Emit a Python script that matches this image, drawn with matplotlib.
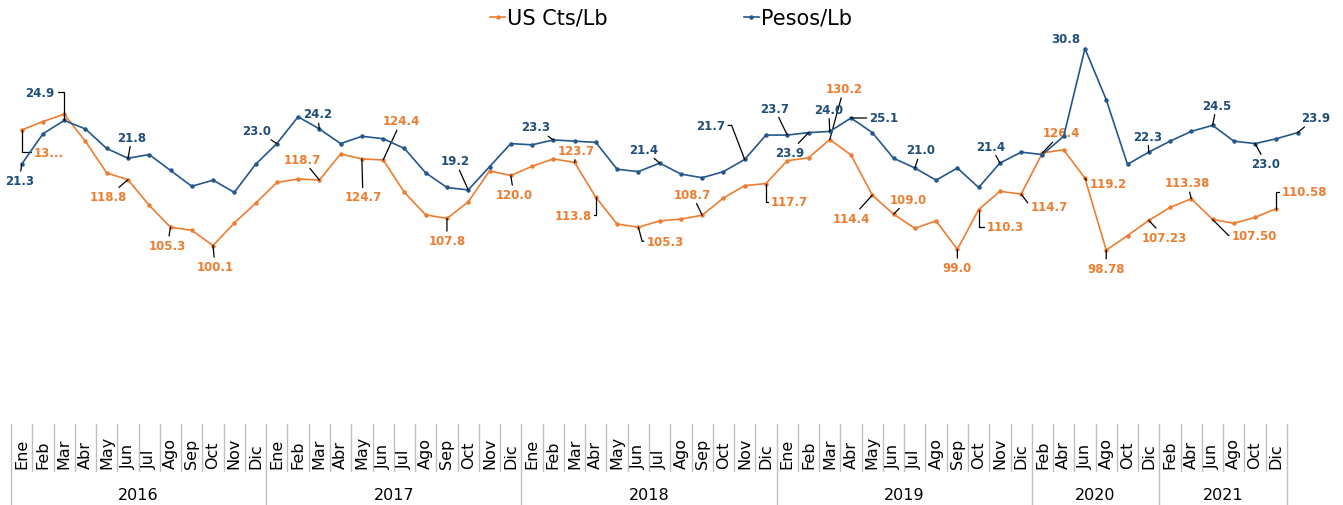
import matplotlib.pyplot as plt
import numpy as np
from matplotlib.lines import Line2D
from matplotlib.transforms import blended_transform_factory

plt.rcParams['font.family'] = ['DejaVu Sans']

ORANGE = '#ED7D31'
BLUE_LINE = '#24578A'
BLUE_TEXT = '#1F4E79'

# categorias: meses por año (2020 y 2021 bimestrales)
months_full = ['Ene', 'Feb', 'Mar', 'Abr', 'May', 'Jun', 'Jul', 'Ago', 'Sep', 'Oct', 'Nov', 'Dic']
months_bi = ['Feb', 'Abr', 'Jun', 'Ago', 'Oct', 'Dic']
years = ['2016', '2017', '2018', '2019', '2020', '2021']
year_months = [months_full, months_full, months_full, months_full, months_bi, months_bi]

us_cts = [132.9, 135.3, 137.4, 129.7, 120.7, 118.8, 111.5, 105.3, 104.4, 100.1, 106.5, 112.1,
          118.0, 119.0, 118.7, 126.1, 124.7, 124.4, 115.2, 108.8, 107.8, 112.5, 121.3, 120.0,
          122.6, 124.7, 123.7, 113.8, 106.2, 105.3, 107.1, 107.6, 108.7, 113.6, 117.1, 117.7,
          124.2, 125.0, 130.2, 125.8, 114.4, 109.0, 105.0, 107.1, 99.0, 110.3, 115.5, 114.7,
          126.4, 127.3, 119.2, 98.78, 102.9, 107.23, 110.9, 113.38, 107.50, 106.4, 108.1, 110.58]

pesos = [21.3, 23.8, 24.9, 24.2, 22.6, 21.8, 22.1, 20.8, 19.5, 20.0, 19.0, 21.3,
         23.0, 25.2, 24.2, 23.0, 23.6, 23.4, 22.6, 20.6, 19.4, 19.2, 21.1, 23.0,
         22.9, 23.3, 23.2, 23.1, 20.9, 20.7, 21.4, 20.5, 20.2, 20.7, 21.7, 23.7,
         23.7, 23.9, 24.0, 25.1, 23.9, 21.8, 21.0, 20.0, 21.0, 19.4, 21.4, 22.3,
         22.1, 23.6, 30.8, 26.6, 21.3, 22.3, 23.2, 24.0, 24.5, 23.2, 23.0, 23.4, 23.9]

# etiquetas: indice, decimales, desplazamiento (px), tipo de guia
ELBOW = 'angle,angleA=0,angleB=90,rad=0'
us_labels = [
    (0, 1, 27, -22, ELBOW, (0, 0.5)),
    (5, 1, -20, -17, None, None),
    (7, 1, -3, -18, None, None),
    (9, 1, 2, -21, None, None),
    (14, 1, -17, 21, None, None),
    (16, 1, 1, -38, None, None),
    (17, 1, 18, 39, None, None),
    (20, 1, 0, -22, None, None),
    (23, 1, 3, -19, None, None),
    (26, 1, 2, 12, None, None),
    (27, 1, -23, -18, ELBOW, (1, 0.5)),
    (29, 1, 27, -14, 'angle,angleA=0,angleB=-75,rad=0', (0, 0.5)),
    (32, 1, -10, 21, None, None),
    (35, 1, 23, -18, ELBOW, (0, 0.5)),
    (38, 1, 14, 51, None, None),
    (40, 1, -21, -23, None, None),
    (41, 1, 15, 15, None, None),
    (44, 1, 0, -18, None, None),
    (45, 1, 27, -17, ELBOW, (0, 0.5)),
    (47, 1, 28, -12, 'angle,angleA=0,angleB=-53,rad=0', (0, 0.5)),
    (48, 1, 19, 20, None, None),
    (50, 1, 23, -5, 'angle,angleA=0,angleB=-53,rad=0', (0, 0.5)),
    (51, 2, 0, -18, None, None),
    (53, 2, 16, -17, None, None),
    (55, 2, -4, 16, None, None),
    (56, 2, 42, -16, 'angle,angleA=0,angleB=-45,rad=0', (0, 0.5)),
    (59, 2, 28, 17, ELBOW, (0, 0.5)),
]
pesos_labels = [
    (0, 1, -2, -16, None, None),
    (2, 1, -24, 28, ELBOW, (1, 0.5)),
    (5, 1, 4, 21, None, None),
    (12, 1, -20, 13, None, None),
    (14, 1, -2, 15, None, None),
    (21, 1, -13, 29, None, None),
    (25, 1, -18, 13, None, None),
    (30, 1, -16, 14, None, None),
    (34, 1, -34, 34, 'angle,angleA=0,angleB=111,rad=0', (1, 0.5)),
    (36, 1, -13, 27, None, None),
    (37, 1, -19, -20, None, None),
    (38, 1, -1, 22, None, None),
    (39, 1, 33, 0, None, None),
    (42, 1, 6, 18, None, None),
    (46, 1, -9, 17, None, None),
    (50, 1, -19, 10, 'none', None),
    (53, 1, -1, 16, None, None),
    (56, 1, 4, 20, None, None),
    (58, 1, 11, -20, None, None),
    (60, 1, 18, 15, None, None),
]
truncated = {('us', 0): '13...'}

fig = plt.figure(figsize=(13.43, 5.06), dpi=100)
ax = fig.add_axes([11 / 1343, 81 / 506, 1276 / 1343, 395 / 506])
ax2 = ax.twinx()

x_us = np.arange(len(us_cts))
x_pesos = np.arange(len(pesos))
ax.plot(x_us, us_cts, color=ORANGE, lw=1.2, marker='o', ms=2.2, clip_on=False)
ax2.plot(x_pesos, pesos, color=BLUE_LINE, lw=1.2, marker='o', ms=2.2, clip_on=False)

n_cat = sum(len(m) for m in year_months)
ax.set_xlim(-0.5, n_cat - 0.5)
ax.set_ylim(49.4, 161.6)
ax2.set_ylim(0.0, 32.4)
for a in (ax, ax2):
    for s in a.spines.values():
        s.set_visible(False)
    a.set_xticks([])
    a.set_yticks([])


def put_labels(axis, xs, values, specs, color, key):
    for idx, dec, dx, dy, conn, relpos in specs:
        val = values[idx]
        text = truncated.get((key, idx), f'{val:.{dec}f}')
        arrow = None
        if conn != 'none':
            arrow = dict(arrowstyle='-', color='black', lw=0.9, shrinkA=0, shrinkB=0,
                         connectionstyle=conn or 'arc3', relpos=relpos or (0.5, 0.5))
        axis.annotate(text, xy=(xs[idx], val), xytext=(dx, dy), textcoords='offset pixels',
                      ha='center', va='center', color=color, fontsize=8.5, fontweight='bold',
                      arrowprops=arrow, annotation_clip=False, zorder=5)


put_labels(ax, x_us, us_cts, us_labels, ORANGE, 'us')
put_labels(ax2, x_pesos, pesos, pesos_labels, BLUE_TEXT, 'pesos')

# eje de categorias en dos niveles
tr = blended_transform_factory(ax.transData, fig.transFigure)
y_top, y_mid = 81 / 506, 34 / 506
pos = 0
bounds = [0]
for yr, months in zip(years, year_months):
    for k, m in enumerate(months):
        fig.text(pos + k, y_mid + 0.006, m, rotation=90, ha='center', va='bottom',
                 fontsize=11.5, color='black', transform=tr)
    fig.text(pos + (len(months) - 1) / 2, 0.02, yr, ha='center', va='center',
             fontsize=11.5, color='black', transform=tr)
    pos += len(months)
    bounds.append(pos)

for k in range(n_cat + 1):
    lower = 0.0 if k in bounds else y_mid
    fig.add_artist(Line2D([k - 0.5, k - 0.5], [y_top, lower], transform=tr,
                          color='#BFBFBF', lw=1))

handles = [Line2D([], [], color=ORANGE, lw=1.2, marker='o', ms=2.2),
           Line2D([], [], color=BLUE_LINE, lw=1.2, marker='o', ms=2.2)]
fig.legend(handles, ['US Cts/Lb', 'Pesos/Lb'], loc='center', bbox_to_anchor=(671 / 1343, 1 - 19 / 506),
           ncol=2, frameon=False, fontsize=15, handlelength=0.75, handletextpad=0.1,
           columnspacing=6.5)

fig.savefig('out.png', dpi=100)
